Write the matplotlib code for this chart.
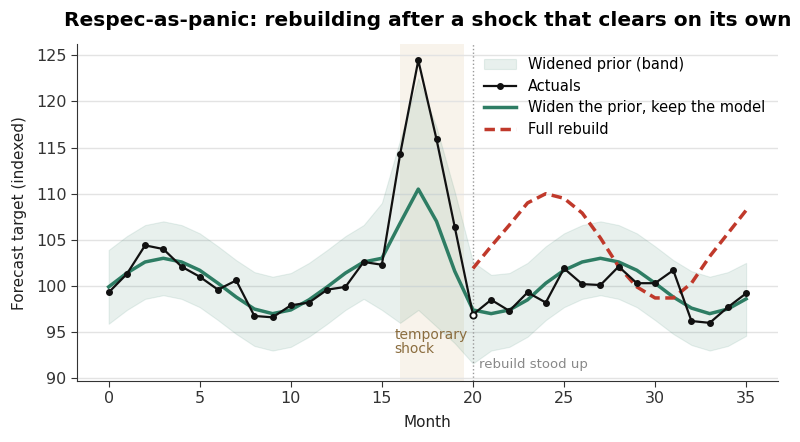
import matplotlib
matplotlib.use("Agg")
import matplotlib.pyplot as plt

months = list(range(36))
actuals = [99.3, 101.3, 104.4, 104.0, 102.1, 101.0, 99.6, 100.6, 96.75, 96.6,
           97.9, 98.2, 99.6, 99.9, 102.6, 102.3, 114.25, 124.45, 115.9, 106.4,
           96.9, 98.5, 97.3, 99.3, 98.2, 101.9, 100.2, 100.1, 102.1, 100.3,
           100.3, 101.7, 96.2, 96.0, 97.7, 99.2]
widened = [99.9, 101.4, 102.6, 103.0, 102.6, 101.7, 100.3, 98.8, 97.5, 97.0,
           97.4, 98.5, 99.9, 101.4, 102.6, 103.0, 106.8, 110.5, 107.0, 101.6,
           97.4, 97.0, 97.4, 98.5, 100.3, 101.7, 102.6, 103.0, 102.6, 101.7,
           100.3, 98.8, 97.6, 97.0, 97.5, 98.6]
band_hi = [103.9, 105.4, 106.6, 107.0, 106.6, 105.7, 104.3, 102.8, 101.5, 101.0,
           101.4, 102.5, 103.9, 105.4, 106.6, 109.0, 115.8, 122.5, 117.2, 110.2,
           102.6, 101.2, 101.4, 102.5, 104.3, 105.7, 106.6, 107.0, 106.6, 105.7,
           104.3, 102.8, 101.6, 101.0, 101.5, 102.5]
band_lo = [95.9, 97.4, 98.6, 99.0, 98.6, 97.7, 96.3, 94.8, 93.5, 93.0,
           93.4, 94.5, 95.9, 97.4, 98.6, 97.4, 96.0, 97.4, 95.6, 93.8,
           91.6, 93.0, 93.4, 94.5, 96.3, 97.7, 98.6, 99.0, 98.6, 97.7,
           96.3, 94.8, 93.6, 93.0, 93.5, 94.6]
rebuild_months = list(range(20, 36))
rebuild = [101.9, 104.3, 106.6, 109.0, 110.0, 109.5, 107.9, 105.2, 102.1, 99.9,
           98.7, 98.7, 100.3, 103.2, 105.7, 108.2]
shock_start, shock_end = 16, 19.5
rebuild_at = 20

green = "#2e7d64"
red = "#c0392b"

fig = plt.figure(figsize=(8, 4.42), dpi=100)
ax = fig.add_subplot(111)
fig.subplots_adjust(left=0.096, right=0.9725, bottom=0.138, top=0.9)

ax.axvspan(shock_start, shock_end, color="#e2cba8", alpha=0.22, lw=0, zorder=0)
ax.fill_between(months, band_lo, band_hi, color=green, alpha=0.11, lw=0.8,
                label="Widened prior (band)", zorder=1)
ax.plot(months, actuals, color="#111111", lw=1.6, marker="o", ms=4,
        label="Actuals", zorder=4)
ax.plot(months, widened, color=green, lw=2.5,
        label="Widen the prior, keep the model", zorder=3)
ax.plot(rebuild_months, rebuild, color=red, lw=2.5, ls="--", dashes=(3, 1.6),
        label="Full rebuild", zorder=3)
ax.plot([rebuild_at], [actuals[rebuild_at]], marker="o", ms=4.5, mfc="white",
        mec="#111111", mew=1.3, zorder=5)
ax.axvline(rebuild_at, color="#999999", lw=1, ls=":", zorder=2)

ax.text(15.7, 95.4, "temporary\nshock", color="#8b6d3f", fontsize=10,
        va="top", ha="left", linespacing=1.0)
ax.text(20.35, 91.45, "rebuild stood up", color="#888888", fontsize=9.5,
        va="center", ha="left")

ax.set_xlim(-1.75, 36.75)
ax.set_ylim(89.7, 126.2)
ax.set_yticks([90, 95, 100, 105, 110, 115, 120, 125])
ax.set_xticks([0, 5, 10, 15, 20, 25, 30, 35])
ax.grid(axis="y", color="#e3e3e3", lw=1)
ax.set_axisbelow(True)
for s in ["top", "right"]:
    ax.spines[s].set_visible(False)
for s in ["left", "bottom"]:
    ax.spines[s].set_color("#333333")
ax.tick_params(colors="#333333", labelsize=11.5, length=4)

ax.set_xlabel("Month", fontsize=11, color="#222222", labelpad=6)
ax.set_ylabel("Forecast target (indexed)", fontsize=11, color="#222222", labelpad=6)
ax.set_title("Respec-as-panic: rebuilding after a shock that clears on its own",
             fontsize=14.5, fontweight="bold", pad=13)
ax.legend(loc="upper right", frameon=False, fontsize=10.5,
          borderaxespad=0.5, handlelength=2.2, labelspacing=0.45)

fig.savefig("out.png", dpi=100)
